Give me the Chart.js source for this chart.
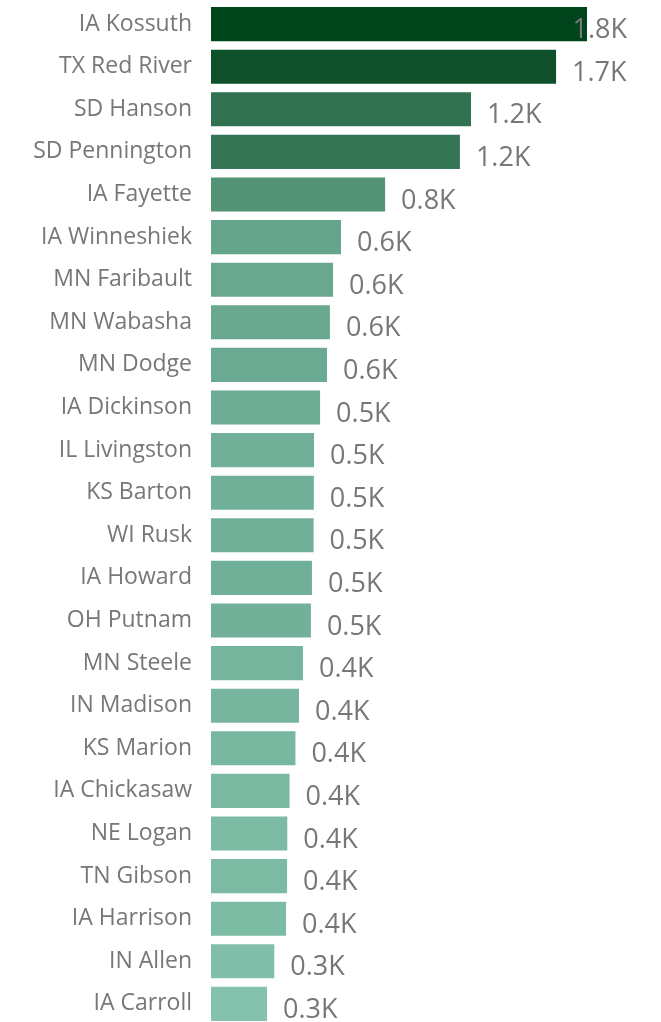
<!DOCTYPE html>
<html>
<head>
<meta charset="utf-8">
<script src="https://cdn.jsdelivr.net/npm/chart.js@4"></script>
<style>
  html, body { margin: 0; padding: 0; background: #fff; overflow: hidden; }
  #wrap { width: 661px; height: 1022px; position: relative; overflow: hidden; }
  #inner { position: absolute; left: 0; top: -30px; width: 661px; height: 1088px; }
</style>
</head>
<body>
<div id="wrap"><div id="inner"><canvas id="chart"></canvas></div></div>
<script>
const counties = [
  "IA Kossuth", "TX Red River", "SD Hanson", "SD Pennington", "IA Fayette",
  "IA Winneshiek", "MN Faribault", "MN Wabasha", "MN Dodge", "IA Dickinson",
  "IL Livingston", "KS Barton", "WI Rusk", "IA Howard", "OH Putnam",
  "MN Steele", "IN Madison", "KS Marion", "IA Chickasaw", "NE Logan",
  "TN Gibson", "IA Harrison", "IN Allen", "IA Carroll"
];
const values = [
  1799, 1651, 1244, 1191, 833,
  622, 584, 569, 555, 522,
  493, 492, 491, 483, 478,
  440, 421, 404, 376, 365,
  364, 359, 303, 268
];
const axisMax = 2000;

// colour ramp: light teal for the smallest value, dark green for the largest
const dark = [0, 68, 27];
const light = [132, 194, 173];
const vMin = Math.min(...values), vMax = Math.max(...values);
function barColor(v) {
  const t = (v - vMin) / (vMax - vMin);
  const c = light.map((l, i) => Math.round(l + (dark[i] - l) * t));
  return `rgb(${c[0]}, ${c[1]}, ${c[2]})`;
}

const valueLabels = {
  id: 'valueLabels',
  afterDatasetsDraw(chart) {
    const ctx = chart.ctx;
    const meta = chart.getDatasetMeta(0);
    ctx.save();
    ctx.font = '27px "Open Sans"';
    ctx.fillStyle = '#777';
    ctx.textAlign = 'left';
    ctx.textBaseline = 'alphabetic';
    meta.data.forEach((bar, i) => {
      const txt = (values[i] / 1000).toFixed(1) + 'K';
      const w = ctx.measureText(txt).width;
      let x = bar.x + 16;
      if (x + w > 627) x = 627 - w;
      ctx.fillText(txt, x, bar.y + 14);
    });
    ctx.restore();
  }
};

new Chart(document.getElementById('chart'), {
  type: 'bar',
  data: {
    labels: counties,
    datasets: [{
      data: values,
      backgroundColor: values.map(barColor),
      barPercentage: 0.8,
      categoryPercentage: 1.0
    }]
  },
  options: {
    indexAxis: 'y',
    responsive: true,
    maintainAspectRatio: false,
    animation: false,
    layout: { padding: { left: 0, right: 32, top: 0, bottom: 0 } },
    plugins: {
      legend: { display: false },
      tooltip: { enabled: false }
    },
    scales: {
      x: {
        display: false,
        min: 0,
        max: axisMax
      },
      y: {
        grid: { display: false, drawTicks: false },
        border: { display: false },
        ticks: {
          color: '#777',
          font: { family: '"Open Sans"', size: 23 },
          padding: 19,
          autoSkip: false
        },
        afterFit(scale) { scale.width = 211; }
      }
    }
  },
  plugins: [valueLabels]
});
</script>
</body>
</html>
